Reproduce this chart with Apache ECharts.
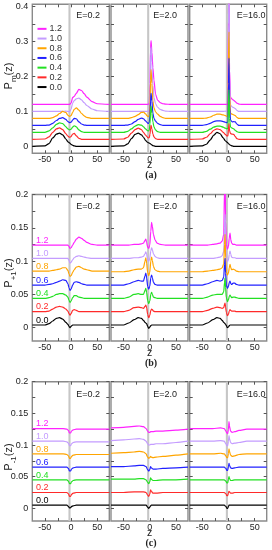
<!DOCTYPE html>
<html><head><meta charset="utf-8">
<script src="https://cdn.jsdelivr.net/npm/echarts@6/dist/echarts.min.js"></script>
<style>html,body{margin:0;padding:0;background:#fff}#c{width:272px;height:550px}</style>
</head><body><div id="c"></div>
<script>
// ---------- DATA (rows ordered 0.0, 0.2, 0.4, 0.6, 0.8, 1.0, 1.2) ----------
const CURVE_LABELS = ['0.0','0.2','0.4','0.6','0.8','1.0','1.2'];
const E_LABELS = ['E=0.2','E=2.0','E=16.0'];
const X_LABELS = [-50, 0, 50];
const X_TICKS = [-50, -25, 0, 25, 50];
const Y_LABELS_A = [0, 0.1, 0.2, 0.3, 0.4];
const Y_TICKS_A = [0, 0.05, 0.1, 0.15, 0.2, 0.25, 0.3, 0.35, 0.4];
const Y_LABELS_BC = [0, 0.05, 0.1, 0.15, 0.2];
const Y_TICKS_BC = [0, 0.025, 0.05, 0.075, 0.1, 0.125, 0.15, 0.175, 0.2];
const BAND = [-5, -1];
const BASELINES_B = [0.004, 0.024, 0.044, 0.064, 0.084, 0.104, 0.124];
const BASELINES_C = [0.005, 0.025, 0.045, 0.065, 0.086, 0.106, 0.126];

// Pm(z), E=0.2
const Z_A1 = [-74,-50,-42,-35,-28,-22,-16,-10,-6,-3,0,3,6,10,15,20,25,30,40,50,73];
const A1 = [
 [0,0.001,0.008,0.024,0.035,0.038,0.033,0.021,0.013,0.010,0.006,0.003,0.001,0,0,0,0,0,0,0,0],
 [0.02,0.021,0.027,0.04,0.05,0.053,0.048,0.036,0.029,0.026,0.028,0.035,0.037,0.03,0.023,0.02,0.02,0.02,0.02,0.02,0.02],
 [0.04,0.04,0.044,0.053,0.063,0.067,0.065,0.056,0.05,0.047,0.049,0.055,0.059,0.056,0.047,0.042,0.04,0.04,0.04,0.04,0.04],
 [0.06,0.06,0.061,0.066,0.074,0.08,0.082,0.077,0.071,0.068,0.069,0.075,0.08,0.079,0.07,0.064,0.061,0.06,0.06,0.06,0.06],
 [0.08,0.08,0.08,0.082,0.087,0.094,0.1,0.097,0.089,0.086,0.088,0.097,0.106,0.11,0.104,0.094,0.087,0.083,0.08,0.08,0.08],
 [0.1,0.1,0.1,0.1,0.1,0.1,0.1,0.101,0.1,0.099,0.106,0.124,0.131,0.136,0.138,0.133,0.125,0.117,0.107,0.102,0.1],
 [0.12,0.12,0.12,0.12,0.12,0.12,0.12,0.12,0.12,0.12,0.124,0.14,0.143,0.152,0.163,0.16,0.151,0.141,0.128,0.122,0.12]
];
// Pm(z), E=2.0
const Z_A2 = [-74,-50,-42,-35,-28,-22,-16,-12,-8,-5,-3,-1,0.5,1.5,2.5,4,6,8,11,15,20,25,30,40,73];
const A2 = [
 [0,0.001,0.007,0.022,0.034,0.038,0.033,0.026,0.017,0.012,0.011,0.009,0.008,0.007,0.006,0.004,0.002,0.001,0,0,0,0,0,0,0],
 [0.02,0.021,0.026,0.038,0.048,0.052,0.048,0.04,0.032,0.027,0.024,0.025,0.035,0.052,0.06,0.05,0.035,0.027,0.022,0.02,0.02,0.02,0.02,0.02,0.02],
 [0.04,0.04,0.043,0.05,0.058,0.062,0.061,0.056,0.05,0.046,0.044,0.046,0.065,0.1,0.115,0.095,0.07,0.056,0.047,0.042,0.04,0.04,0.04,0.04,0.04],
 [0.06,0.06,0.061,0.064,0.071,0.077,0.081,0.079,0.073,0.068,0.066,0.068,0.09,0.13,0.152,0.13,0.095,0.08,0.072,0.066,0.062,0.06,0.06,0.06,0.06],
 [0.08,0.08,0.08,0.082,0.086,0.091,0.097,0.098,0.093,0.087,0.085,0.088,0.12,0.19,0.22,0.18,0.13,0.11,0.099,0.092,0.086,0.082,0.08,0.08,0.08],
 [0.1,0.1,0.1,0.1,0.1,0.1,0.1,0.1,0.1,0.1,0.1,0.104,0.16,0.26,0.285,0.24,0.175,0.14,0.122,0.112,0.106,0.103,0.101,0.1,0.1],
 [0.12,0.12,0.12,0.12,0.12,0.12,0.12,0.12,0.12,0.12,0.12,0.123,0.18,0.28,0.303,0.27,0.225,0.19,0.15,0.132,0.125,0.122,0.121,0.12,0.12]
];
// Pm(z), E=16.0
const Z_A3 = [-74,-50,-42,-35,-28,-22,-16,-10,-6,-3,-1,0,1,2,4,7,10,13,16,20,25,40,73];
const A3 = [
 [0,0.001,0.006,0.018,0.032,0.04,0.036,0.024,0.016,0.012,0.01,0.008,0.007,0.005,0.003,0.001,0,0,0,0,0,0,0],
 [0.02,0.021,0.026,0.036,0.046,0.05,0.048,0.04,0.034,0.03,0.03,0.05,0.065,0.045,0.036,0.035,0.034,0.028,0.022,0.02,0.02,0.02,0.02],
 [0.04,0.04,0.043,0.049,0.055,0.058,0.058,0.055,0.052,0.05,0.052,0.12,0.162,0.08,0.055,0.052,0.05,0.046,0.042,0.04,0.04,0.04,0.04],
 [0.06,0.06,0.062,0.066,0.071,0.073,0.073,0.071,0.069,0.068,0.07,0.18,0.253,0.12,0.075,0.07,0.071,0.07,0.064,0.06,0.06,0.06,0.06],
 [0.08,0.08,0.081,0.084,0.089,0.092,0.092,0.09,0.088,0.086,0.088,0.25,0.328,0.15,0.095,0.092,0.09,0.088,0.083,0.08,0.08,0.08,0.08],
 [0.1,0.1,0.1,0.1,0.1,0.1,0.1,0.1,0.101,0.1,0.102,0.35,0.48,0.2,0.118,0.113,0.111,0.108,0.103,0.1,0.1,0.1,0.1],
 [0.12,0.12,0.12,0.12,0.12,0.12,0.12,0.12,0.12,0.12,0.122,0.38,0.5,0.22,0.14,0.135,0.132,0.128,0.124,0.121,0.12,0.12,0.12]
];
// P+1(z), E=0.2
const Z_B1 = [-74,-50,-42,-35,-28,-22,-16,-10,-6,-4,-2,0,3,6,10,15,20,25,30,40,50,73];
const B1 = [
 [0.004,0.004,0.006,0.01,0.014,0.015,0.013,0.008,0.005,0.002,0,0.002,0.004,0.004,0.004,0.004,0.004,0.004,0.004,0.004,0.004,0.004],
 [0.024,0.024,0.025,0.028,0.031,0.032,0.031,0.028,0.025,0.021,0.019,0.021,0.026,0.027,0.026,0.024,0.024,0.024,0.024,0.024,0.024,0.024],
 [0.044,0.044,0.045,0.047,0.05,0.051,0.051,0.049,0.046,0.041,0.038,0.04,0.045,0.048,0.048,0.046,0.045,0.044,0.044,0.044,0.044,0.044],
 [0.064,0.064,0.065,0.066,0.068,0.07,0.072,0.071,0.066,0.06,0.056,0.058,0.064,0.068,0.069,0.068,0.066,0.065,0.064,0.064,0.064,0.064],
 [0.085,0.085,0.085,0.086,0.087,0.088,0.09,0.09,0.086,0.081,0.077,0.078,0.083,0.087,0.091,0.092,0.09,0.088,0.087,0.085,0.085,0.085],
 [0.104,0.104,0.104,0.104,0.104,0.104,0.104,0.104,0.104,0.101,0.097,0.098,0.102,0.105,0.107,0.108,0.107,0.106,0.105,0.104,0.104,0.104],
 [0.124,0.124,0.124,0.124,0.124,0.124,0.124,0.124,0.124,0.122,0.119,0.12,0.124,0.128,0.133,0.136,0.134,0.131,0.128,0.125,0.124,0.124]
];
// P+1(z), E=2.0
const Z_B2 = [-74,-50,-40,-30,-22,-16,-12,-9,-7.5,-6,-4,-2,0,2,3.5,5,7,10,14,20,30,40,73];
const B2 = [
 [0.004,0.004,0.007,0.012,0.015,0.014,0.011,0.008,0.007,0.006,0.002,-0.001,0.001,0.003,0.004,0.004,0.004,0.004,0.004,0.004,0.004,0.004,0.004],
 [0.024,0.024,0.026,0.03,0.031,0.03,0.029,0.032,0.034,0.03,0.02,0.015,0.018,0.026,0.028,0.027,0.025,0.024,0.024,0.024,0.024,0.024,0.024],
 [0.044,0.044,0.046,0.05,0.051,0.05,0.05,0.056,0.059,0.053,0.041,0.036,0.04,0.05,0.053,0.05,0.046,0.045,0.044,0.044,0.044,0.044,0.044],
 [0.064,0.064,0.066,0.069,0.071,0.07,0.07,0.078,0.082,0.075,0.062,0.058,0.062,0.075,0.079,0.075,0.068,0.065,0.064,0.064,0.064,0.064,0.064],
 [0.084,0.084,0.085,0.087,0.088,0.088,0.09,0.1,0.105,0.097,0.083,0.078,0.083,0.1,0.106,0.101,0.092,0.087,0.085,0.084,0.084,0.084,0.084],
 [0.104,0.104,0.104,0.105,0.105,0.106,0.107,0.111,0.114,0.11,0.102,0.1,0.104,0.115,0.12,0.117,0.111,0.107,0.105,0.104,0.104,0.104,0.104],
 [0.124,0.124,0.124,0.125,0.125,0.126,0.127,0.131,0.133,0.128,0.121,0.119,0.124,0.145,0.158,0.152,0.14,0.132,0.127,0.125,0.124,0.124,0.124]
];
// P+1(z), E=16.0
const Z_B3 = [-74,-50,-40,-30,-22,-16,-12,-9,-7.5,-6.5,-5.5,-4,-2,0,1.5,3,4.5,6,9,12,15,20,30,73];
const B3 = [
 [0.004,0.004,0.007,0.012,0.015,0.014,0.011,0.008,0.007,0.006,0.005,0.003,0,0.001,0.003,0.004,0.004,0.004,0.004,0.004,0.004,0.004,0.004,0.004],
 [0.024,0.024,0.026,0.029,0.031,0.03,0.029,0.03,0.035,0.037,0.031,0.023,0.018,0.02,0.025,0.027,0.026,0.025,0.025,0.025,0.024,0.024,0.024,0.024],
 [0.044,0.044,0.046,0.049,0.05,0.05,0.05,0.054,0.068,0.075,0.06,0.045,0.039,0.042,0.047,0.049,0.047,0.045,0.046,0.046,0.045,0.044,0.044,0.044],
 [0.064,0.064,0.066,0.069,0.071,0.07,0.071,0.076,0.095,0.104,0.082,0.064,0.059,0.062,0.068,0.07,0.066,0.065,0.067,0.067,0.065,0.064,0.064,0.064],
 [0.084,0.084,0.085,0.086,0.087,0.088,0.09,0.096,0.125,0.14,0.105,0.084,0.079,0.082,0.09,0.095,0.09,0.087,0.088,0.087,0.085,0.084,0.084,0.084],
 [0.104,0.104,0.104,0.104,0.105,0.106,0.108,0.115,0.15,0.17,0.125,0.104,0.099,0.102,0.11,0.115,0.11,0.106,0.105,0.105,0.104,0.104,0.104,0.104],
 [0.124,0.124,0.124,0.125,0.126,0.127,0.13,0.14,0.21,0.25,0.16,0.125,0.118,0.122,0.135,0.142,0.132,0.127,0.125,0.125,0.124,0.124,0.124,0.124]
];
// P-1(z), E=0.2
const Z_C1 = [-74,-50,-30,-15,-8,-5,-3,-1,1,4,10,30,50,73];
const C1 = [
 [0.005,0.005,0.005,0.005,0.005,0.003,0.0005,0.001,0.003,0.004,0.005,0.005,0.005,0.005],
 [0.025,0.025,0.025,0.025,0.025,0.023,0.019,0.019,0.022,0.024,0.025,0.025,0.025,0.025],
 [0.045,0.045,0.045,0.045,0.045,0.043,0.039,0.039,0.042,0.044,0.045,0.045,0.045,0.045],
 [0.065,0.065,0.065,0.065,0.065,0.063,0.059,0.059,0.062,0.064,0.065,0.065,0.065,0.065],
 [0.086,0.086,0.086,0.086,0.085,0.083,0.079,0.079,0.082,0.084,0.085,0.085,0.085,0.085],
 [0.106,0.106,0.106,0.106,0.105,0.103,0.099,0.099,0.102,0.104,0.105,0.105,0.105,0.105],
 [0.126,0.126,0.126,0.126,0.125,0.123,0.119,0.119,0.122,0.124,0.125,0.125,0.125,0.125]
];
// P-1(z), E=2.0
const Z_C2 = [-74,-50,-30,-20,-12,-7,-4,-2,0,1.5,3,6,12,25,50,73];
const C2 = [
 [0.005,0.005,0.005,0.005,0.005,0.005,0.002,0,0.002,0.004,0.005,0.005,0.005,0.005,0.005,0.005],
 [0.025,0.025,0.026,0.026,0.026,0.025,0.021,0.019,0.022,0.029,0.027,0.024,0.024,0.025,0.025,0.025],
 [0.046,0.046,0.046,0.047,0.047,0.045,0.041,0.039,0.042,0.048,0.046,0.044,0.044,0.045,0.045,0.046],
 [0.066,0.066,0.067,0.068,0.068,0.066,0.061,0.059,0.061,0.066,0.064,0.062,0.062,0.063,0.064,0.065],
 [0.087,0.088,0.089,0.09,0.089,0.086,0.081,0.079,0.08,0.082,0.081,0.08,0.081,0.082,0.084,0.086],
 [0.107,0.108,0.1095,0.11,0.109,0.106,0.102,0.1,0.1,0.101,0.101,0.101,0.102,0.102,0.104,0.106],
 [0.127,0.128,0.1295,0.13,0.129,0.126,0.122,0.12,0.12,0.121,0.121,0.121,0.122,0.122,0.1235,0.125]
];
// P-1(z), E=16.0
const Z_C3 = [-74,-50,-30,-15,-8,-5,-3,-1.5,0,1,2,4,7,12,20,35,73];
const C3 = [
 [0.005,0.005,0.005,0.005,0.005,0.003,0,0,0.003,0.005,0.005,0.005,0.005,0.005,0.005,0.005,0.005],
 [0.025,0.025,0.025,0.025,0.025,0.023,0.02,0.02,0.024,0.027,0.026,0.024,0.024,0.025,0.025,0.025,0.025],
 [0.045,0.045,0.045,0.045,0.045,0.043,0.04,0.04,0.046,0.05,0.047,0.044,0.044,0.045,0.045,0.045,0.045],
 [0.065,0.065,0.065,0.065,0.065,0.063,0.06,0.06,0.066,0.071,0.068,0.064,0.063,0.064,0.065,0.065,0.065],
 [0.086,0.086,0.086,0.087,0.086,0.083,0.08,0.08,0.087,0.094,0.09,0.084,0.082,0.083,0.085,0.086,0.086],
 [0.106,0.106,0.106,0.107,0.106,0.102,0.099,0.099,0.106,0.115,0.11,0.104,0.102,0.103,0.104,0.106,0.106],
 [0.126,0.126,0.126,0.127,0.126,0.122,0.119,0.118,0.125,0.137,0.13,0.122,0.12,0.121,0.123,0.125,0.125]
];

// ---------- LAYOUT / STYLE ----------
const COLORS = ['#000000','#ff2a2a','#22e022','#2020ff','#ffa500','#c49cff','#ff22ff'];
const FONT = 'Liberation Sans, Arial, sans-serif';
const COLS = [32.3, 111, 189.7];
const COLW = 77;
const ROWS = [
  {top: 4.3, height: 149, min: -0.02, max: 0.407, labels: Y_LABELS_A, ticks: Y_TICKS_A},
  {top: 194.5, height: 146.5, min: -0.02, max: 0.2, labels: Y_LABELS_BC, ticks: Y_TICKS_BC},
  {top: 381.7, height: 139.3, min: -0.02, max: 0.2, labels: Y_LABELS_BC, ticks: Y_TICKS_BC}
];
const PANELS = [
  [Z_A1, A1], [Z_A2, A2], [Z_A3, A3],
  [Z_B1, B1], [Z_B2, B2], [Z_B3, B3],
  [Z_C1, C1], [Z_C2, C2], [Z_C3, C3]
];
const XMIN = -74, XMAX = 73;

const grids = [], xAxes = [], yAxes = [], series = [];
const fmt = v => String(+(+v).toFixed(3));
for (let r = 0; r < 3; r++) {
  for (let c = 0; c < 3; c++) {
    const R = ROWS[r];
    grids.push({left: COLS[c], top: R.top, width: COLW, height: R.height, show: true,
      borderColor: '#8a8a8a', borderWidth: 1.4, backgroundColor: 'transparent'});
  }
}
const tickStyle = {show: true, inside: true, length: 3, lineStyle: {color: '#555', width: 1}};
const noLine = {show: false, onZero: false};
for (let g = 0; g < 9; g++) {
  const r = Math.floor(g / 3), c = g % 3, R = ROWS[r];
  xAxes[g] = {type: 'value', gridIndex: g, position: 'bottom', min: XMIN, max: XMAX,
    axisLine: noLine, splitLine: {show: false},
    axisTick: Object.assign({customValues: X_TICKS}, tickStyle),
    axisLabel: {customValues: X_LABELS, margin: 2, fontSize: 9, color: '#222', fontFamily: FONT, formatter: fmt},
    name: c === 1 ? 'z' : '', nameLocation: 'middle', nameGap: 12, nameMoveOverlap: false,
    nameTextStyle: {fontSize: 10.5, color: '#222', fontFamily: FONT, verticalAlign: 'middle'}};
  xAxes[9 + g] = {type: 'value', gridIndex: g, position: 'top', min: XMIN, max: XMAX,
    axisLine: noLine, splitLine: {show: false},
    axisTick: Object.assign({customValues: X_TICKS}, tickStyle), axisLabel: {show: false}};
  yAxes[g] = {type: 'value', gridIndex: g, position: 'left', min: R.min, max: R.max,
    axisLine: noLine, splitLine: {show: false},
    axisTick: Object.assign({customValues: R.ticks}, tickStyle),
    axisLabel: {show: c === 0, customValues: R.labels, margin: 4, fontSize: 9, color: '#222', fontFamily: FONT, formatter: fmt}};
  yAxes[9 + g] = {type: 'value', gridIndex: g, position: 'right', min: R.min, max: R.max,
    axisLine: noLine, splitLine: {show: false},
    axisTick: Object.assign({customValues: R.ticks}, tickStyle), axisLabel: {show: false}};

  const [Z, rows] = PANELS[g];
  for (let k = 6; k >= 0; k--) {
    const s = {type: 'line', name: CURVE_LABELS[k], xAxisIndex: g, yAxisIndex: g,
      data: Z.map((z, i) => [z, rows[k][i]]), symbol: 'none', smooth: 0.25, smoothMonotone: 'x',
      clip: true, silent: true, z: 2,
      lineStyle: {width: 1.2, color: COLORS[k]}, itemStyle: {color: COLORS[k]}};
    if (k === 6) {
      // gray band marking the interface region
      s.markArea = {silent: true, z: 1, itemStyle: {color: '#c6c6c6', borderWidth: 0},
        label: {show: false}, data: [[{xAxis: BAND[0]}, {xAxis: BAND[1]}]]};
    }
    series.push(s);
  }
}

const chart = echarts.init(document.getElementById('c'), null, {renderer: 'canvas'});
chart.setOption({
  animation: false,
  backgroundColor: '#fff',
  grid: grids, xAxis: xAxes, yAxis: yAxes, series: series,
  legend: {show: true, orient: 'vertical', left: 37.5, top: 24, itemWidth: 9, itemHeight: 2,
    itemGap: 0, icon: 'rect', selectedMode: false, padding: 0,
    data: CURVE_LABELS.slice().reverse(),
    textStyle: {fontSize: 9, color: '#333', fontFamily: FONT, lineHeight: 9.7, padding: [0, 0, 0, -2]}}
});

// text elements
const gr = [];
const eRight = [100, 177, 265.5];
const eY = [15.7, 206.7, 395];
for (let r = 0; r < 3; r++) for (let c = 0; c < 3; c++) {
  gr.push({type: 'text', x: eRight[c], y: eY[r], silent: true,
    style: {text: E_LABELS[c], fill: '#222', font: '9px ' + FONT, textAlign: 'right', textVerticalAlign: 'middle'}});
}
const panelTags = [['(a)', 175.5], ['(b)', 363.5], ['(c)', 543.5]];
panelTags.forEach(([t, y]) => gr.push({type: 'text', x: 151, y: y, silent: true,
  style: {text: t, fill: '#222', font: 'bold 10px Liberation Serif, Times New Roman, serif', textAlign: 'center', textVerticalAlign: 'middle'}}));
const yNames = [['m', 76], ['+1', 273], ['-1', 457]];
yNames.forEach(([s, y]) => gr.push({type: 'text', x: 10, y: y, rotation: Math.PI / 2, silent: true,
  style: {text: '{p|P}{s|' + s + '}{p|(z)}', textAlign: 'center', textVerticalAlign: 'middle',
    rich: {p: {fontSize: 11, fontFamily: FONT, fill: '#222', color: '#222', verticalAlign: 'top', lineHeight: 13},
           s: {fontSize: 8, fontFamily: FONT, fill: '#222', color: '#222', verticalAlign: 'top', lineHeight: 9, padding: [6, 0, 0, 0]}}}}));
// coloured curve labels in rows (b) and (c), placed through the axis scales
[[3, BASELINES_B], [6, BASELINES_C]].forEach(([g, bases]) => {
  for (let k = 0; k < 7; k++) {
    const p = chart.convertToPixel({xAxisIndex: g, yAxisIndex: g}, [-55, bases[k] + 0.0072]);
    gr.push({type: 'text', x: p[0], y: p[1], silent: true,
      style: {text: CURVE_LABELS[k], fill: COLORS[k], font: '9px ' + FONT, textAlign: 'center', textVerticalAlign: 'middle'}});
  }
});
chart.setOption({graphic: gr});
</script></body></html>
